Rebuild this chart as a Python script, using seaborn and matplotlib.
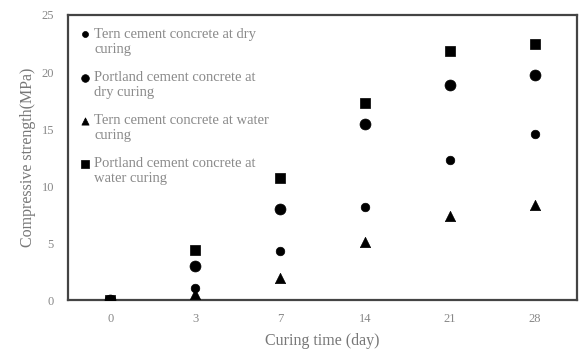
import matplotlib
matplotlib.use("Agg")
import matplotlib.pyplot as plt
from matplotlib.collections import PathCollection
from matplotlib.legend_handler import HandlerPathCollection
import seaborn as sns
import pandas as pd

# Curing ages (days) and compressive strength (MPa) per mix / curing regime
days = ["0", "3", "7", "14", "21", "28"]
tern_dry = [0.0, 1.1, 4.3, 8.2, 12.3, 14.6]
portland_dry = [0.0, 3.05, 8.05, 15.45, 18.9, 19.75]
tern_water = [0.0, 0.55, 2.0, 5.15, 7.4, 8.4]
portland_water = [0.0, 4.4, 10.7, 17.3, 21.8, 22.5]

labels = [
    "Tern cement concrete at dry\ncuring",
    "Portland cement concrete at\ndry curing",
    "Tern cement concrete at water\ncuring",
    "Portland cement concrete at\nwater curing",
]
y_ticks = [0, 5, 10, 15, 20, 25]

sns.set_theme(style="white")
plt.rcParams["font.family"] = ["Liberation Serif", "DejaVu Serif"]

fig = plt.figure(figsize=(5.8, 3.56), dpi=100)
ax = fig.add_axes([0.117, 0.156, 0.878, 0.802])

series = [tern_dry, portland_dry, tern_water, portland_water]
markers = ["o", "o", "^", "s"]
sizes = [38, 62, 55, 62]

for vals, lab, mk, sz in zip(series, labels, markers, sizes):
    df = pd.DataFrame({"day": days, "strength": vals})
    sns.scatterplot(data=df, x="day", y="strength", marker=mk, s=sz,
                    color="black", edgecolor="black", linewidth=0.5,
                    label=lab, ax=ax, zorder=3)

ax.set_xlim(-0.5, 5.5)
ax.set_ylim(0, 25)
ax.set_yticks(y_ticks)
ax.set_xticks(range(len(days)))
ax.set_xticklabels(days)
ax.tick_params(axis="both", length=0, labelsize=9, colors="#888888", pad=9)
ax.tick_params(axis="y", pad=10)

for sp in ax.spines.values():
    sp.set_color("#444444")
    sp.set_linewidth(1.6)

ax.set_xlabel("Curing time (day)", fontsize=11.5, color="#777777", labelpad=6)
ax.set_ylabel("Compressive strength(MPa)", fontsize=11.5, color="#777777", labelpad=4)

# legend markers sit beside the first line of each two-line label
leg = ax.legend(loc="upper left", frameon=False, fontsize=10.5,
                labelcolor="#8a8a8a", handletextpad=0.3, handlelength=0.6,
                labelspacing=1.03, borderaxespad=0.5, markerscale=0.7,
                handler_map={PathCollection: HandlerPathCollection(ypad=-1.6)})

fig.savefig("out.png", dpi=100)
